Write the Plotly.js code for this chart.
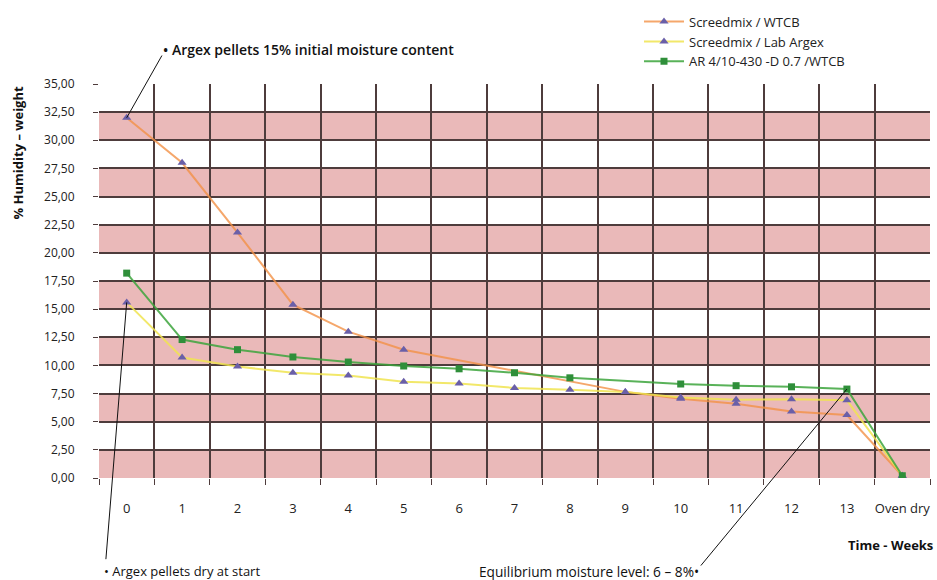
<!DOCTYPE html>
<html>
<head>
<meta charset="utf-8">
<script src="https://cdn.plot.ly/plotly-3.0.1.min.js"></script>
<style>html,body{margin:0;padding:0;background:#fff;}#chart{width:937px;height:580px;}</style>
</head>
<body>
<div id="chart"></div>
<script>
// ---- data ----
const weekLabels = ["0","1","2","3","4","5","6","7","8","9","10","11","12","13","Oven dry"];
const screedWTCB = [32.0, 28.0, 21.8, 15.4, 13.0, 11.4, null, null, null, 7.65, 7.05, 6.6, 5.9, 5.6, 0.2];
const screedLab  = [15.6, 10.7, 9.9, 9.35, 9.1, 8.55, 8.4, 8.0, 7.85, 7.65, 7.15, 6.95, 7.0, 6.9, 0.2];
const arWTCB     = [18.2, 12.3, 11.4, 10.75, 10.3, 9.95, 9.7, 9.35, 8.9, null, 8.35, 8.2, 8.1, 7.9, 0.2];
const seriesNames = ["Screedmix / WTCB", "Screedmix / Lab Argex", "AR 4/10-430 -D 0.7 /WTCB"];
const yTickVals = [0,2.5,5,7.5,10,12.5,15,17.5,20,22.5,25,27.5,30,32.5,35];

const xIdx = weekLabels.map((_, i) => i);

// layout helpers (pixel -> paper)
const L = 99, R = 7, T = 81, B = 102, W = 937, H = 580;
const pw = W - L - R, ph = H - T - B;
const px = v => (v - L) / pw;
const py = v => (H - B - v) / ph;

const font = "'Open Sans', 'DejaVu Sans', sans-serif";
const gridCol = "#4e3c3c";
const markerCol = "#6a5fa8";

const traces = [
  {
    x: xIdx, y: screedWTCB, name: seriesNames[0], type: "scatter", mode: "lines+markers",
    connectgaps: true,
    line: {color: "rgba(242,145,70,0.8)", width: 2},
    marker: {symbol: "triangle-up", size: 8, color: markerCol}
  },
  {
    x: xIdx, y: screedLab, name: seriesNames[1], type: "scatter", mode: "lines+markers",
    connectgaps: true,
    line: {color: "rgba(240,228,80,0.85)", width: 2},
    marker: {symbol: "triangle-up", size: 8, color: markerCol}
  },
  {
    x: xIdx, y: arWTCB, name: seriesNames[2], type: "scatter", mode: "lines+markers",
    connectgaps: true,
    line: {color: "rgba(60,165,60,0.85)", width: 2},
    marker: {symbol: "square", size: 7, color: "#2f8f3a"}
  }
];

// pink bands
const shapes = [];
for (let v = 0; v < 35; v += 5) {
  shapes.push({type: "rect", xref: "paper", yref: "y", x0: 0, x1: 1, y0: v, y1: v + 2.5,
    fillcolor: "#eab9b9", line: {width: 0}, layer: "below"});
}

const annotations = [
  // pointer lines
  {xref: "x", yref: "y", x: 0, y: screedWTCB[0], axref: "x", ayref: "y", ax: 0.69, ay: 38.0,
   text: " ", showarrow: true, arrowhead: 0, arrowwidth: 1, arrowcolor: "#111", standoff: 0},
  {xref: "x", yref: "y", x: 0, y: screedLab[0], axref: "x", ayref: "y", ax: -0.39, ay: -8.1,
   text: " ", showarrow: true, arrowhead: 0, arrowwidth: 1, arrowcolor: "#111", standoff: 0},
  {xref: "x", yref: "y", x: 13, y: arWTCB[13], axref: "x", ayref: "y", ax: 10.31, ay: -8.1,
   text: " ", showarrow: true, arrowhead: 0, arrowwidth: 1, arrowcolor: "#111", standoff: 0},
  // texts
  {xref: "paper", yref: "paper", x: px(161), y: py(46), xanchor: "left", yanchor: "middle",
   text: "• Argex pellets 15% initial moisture content", showarrow: false,
   font: {family: font, size: 14, color: "#111", weight: 600}},
  {xref: "paper", yref: "paper", x: px(102), y: py(572), xanchor: "left", yanchor: "middle",
   text: "• Argex pellets dry at start", showarrow: false,
   font: {family: font, size: 13, color: "#111", weight: 400}},
  {xref: "paper", yref: "paper", x: px(701), y: py(572), xanchor: "right", yanchor: "middle",
   text: "Equilibrium moisture level: 6 – 8%•", showarrow: false,
   font: {family: font, size: 13.7, color: "#111", weight: 400}},
  {xref: "paper", yref: "paper", x: px(935), y: py(546), xanchor: "right", yanchor: "middle",
   text: "Time - Weeks", showarrow: false,
   font: {family: font, size: 13, color: "#111", weight: 700}},
  {xref: "paper", yref: "paper", x: px(18), y: py(151), xanchor: "center", yanchor: "middle",
   text: "% Humidity – weight", textangle: -90, showarrow: false,
   font: {family: font, size: 13, color: "#111", weight: 700}}
];

const layout = {
  width: W, height: H,
  margin: {l: L, r: R, t: T, b: B, pad: 0},
  paper_bgcolor: "#fff", plot_bgcolor: "#fff",
  separators: ", ",
  font: {family: font, size: 12, color: "#222"},
  showlegend: true,
  legend: {x: px(639), y: py(3), xanchor: "left", yanchor: "top",
    font: {family: font, size: 13, color: "#222"}, bgcolor: "rgba(0,0,0,0)",
    tracegroupgap: 0, itemwidth: 40},
  xaxis: {
    range: [-0.5, 14.5], fixedrange: true,
    tickmode: "array", tickvals: xIdx, ticktext: weekLabels,
    showgrid: false, zeroline: false, ticks: "", ticklabelstandoff: 21,
    tickfont: {family: font, size: 13, color: "#222"},
    showline: false,
    minor: {tick0: -0.5, dtick: 1, showgrid: true, gridcolor: gridCol, gridwidth: 2,
      ticks: "outside", ticklen: 6, tickcolor: gridCol, tickwidth: 1}
  },
  yaxis: {
    range: [0, 35], fixedrange: true,
    tickmode: "array", tickvals: yTickVals, tickformat: ".2f",
    showgrid: true, gridcolor: gridCol, gridwidth: 2, zeroline: false,
    ticks: "outside", ticklen: 5, tickcolor: gridCol, ticklabelstandoff: 16,
    tickfont: {family: font, size: 12, color: "#222"},
    showline: false
  },
  shapes: shapes,
  annotations: annotations
};

Plotly.newPlot("chart", traces, layout, {staticPlot: true, displayModeBar: false});
</script>
</body>
</html>
